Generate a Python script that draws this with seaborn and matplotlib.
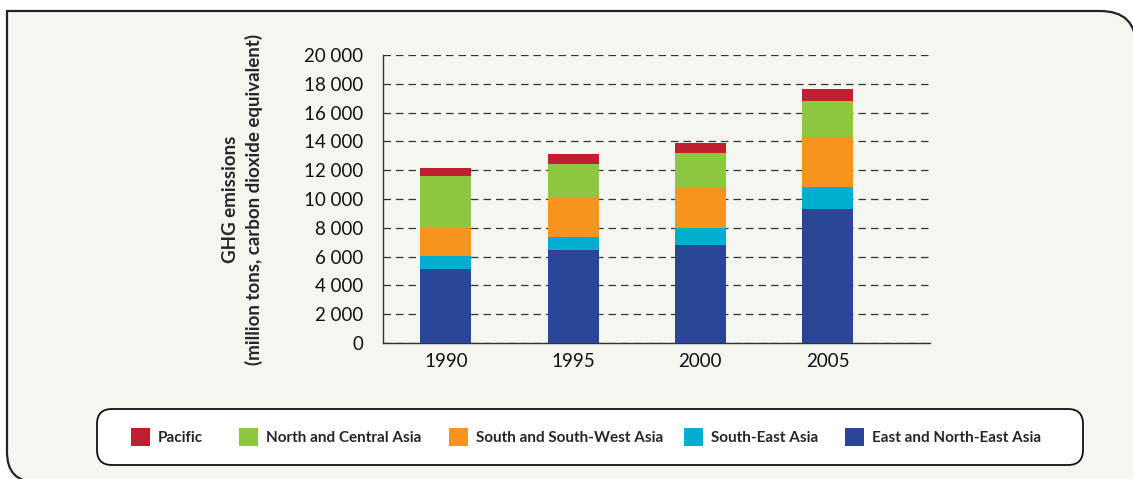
import numpy as np
import pandas as pd
import matplotlib.pyplot as plt
from matplotlib.patches import Patch, FancyBboxPatch, PathPatch
from matplotlib.path import Path
import seaborn as sns

# GHG emissions by subregion (million tons CO2 eq)
years = ["1990", "1995", "2000", "2005"]
east_ne_asia = [5160, 6470, 6820, 9320]
south_east_asia = [900, 910, 1180, 1520]
south_sw_asia = [1960, 2720, 2840, 3470]
north_central_asia = [3590, 2340, 2360, 2500]
pacific = [560, 690, 700, 830]

regions = ["East and North-East Asia", "South-East Asia", "South and South-West Asia",
           "North and Central Asia", "Pacific"]
colors = ["#2b4699", "#00aecf", "#f7941d", "#8dc63f", "#c01f2f"]
series = [east_ne_asia, south_east_asia, south_sw_asia, north_central_asia, pacific]

yticks = np.arange(0, 20001, 2000)

sns.set_style("white")
plt.rcParams["font.family"] = ["Lato", "DejaVu Sans"]

W, H = 1133, 479
fig = plt.figure(figsize=(W / 100, H / 100), dpi=100)
fig.patch.set_facecolor("white")

# background panel with the rounded frame
bg = fig.add_axes([0, 0, 1, 1], zorder=-1)
bg.set_xlim(0, W)
bg.set_ylim(H, 0)
bg.axis("off")
verts = [(36, 482), (7, 482), (7, 452), (7, 11), (1100, 11), (1136, 11), (1136, 46),
         (1136, 482), (36, 482)]
codes = [Path.MOVETO, Path.CURVE3, Path.CURVE3, Path.LINETO, Path.LINETO, Path.CURVE3,
         Path.CURVE3, Path.LINETO, Path.CLOSEPOLY]
bg.add_patch(PathPatch(Path(verts, codes), facecolor="#f3f7f0", edgecolor="#222222", lw=1.6))
bg.add_patch(FancyBboxPatch((112, 424), 956, 26, boxstyle="round,pad=15",
                            facecolor="white", edgecolor="#111111", lw=1.3))

ax = fig.add_axes([383 / W, 1 - 343 / H, (930 - 383) / W, (343 - 55) / H])
ax.set_facecolor("none")

df = pd.DataFrame({"year": years})
cum = np.zeros(len(years))
cums = []
for s in series:
    cum = cum + np.array(s)
    cums.append(cum.copy())
# draw from the tallest stack down so each segment shows
for c, col in reversed(list(zip(cums, colors))):
    df["v"] = c
    sns.barplot(data=df, x="year", y="v", color=col, width=0.4, saturation=1,
                ax=ax, zorder=3, linewidth=0)

ax.set_xlim(-0.494, 3.805)
ax.set_ylim(0, 20000)
ax.set_yticks(yticks)
ax.set_yticklabels([f"{v:,}".replace(",", " ") for v in yticks])
ax.yaxis.grid(True, linestyle=(0, (6, 4)), color="#333333", lw=0.9, zorder=0)
ax.xaxis.grid(False)
ax.tick_params(axis="both", labelsize=13.5, length=0, colors="#111111")
ax.tick_params(axis="y", pad=14)
ax.tick_params(axis="x", pad=7)
for side in ["top", "right"]:
    ax.spines[side].set_visible(False)
for side in ["left", "bottom"]:
    ax.spines[side].set_color("#333333")
    ax.spines[side].set_linewidth(1.0)
ax.set_xlabel("")
ax.set_ylabel("GHG emissions\n(million tons, carbon dioxide equivalent)",
              fontsize=13.5, fontweight="bold", linespacing=1.35, labelpad=30)

# legend entries, each anchored at its own place in the box
legend_order = [4, 3, 2, 1, 0]
legend_x = [131, 239, 449, 684, 845]
for i, lx in zip(legend_order, legend_x):
    fig.legend([Patch(facecolor=colors[i], edgecolor="none")], [regions[i]],
               loc="center left", bbox_to_anchor=(lx / W, 1 - 437 / H),
               frameon=False, borderpad=0, borderaxespad=0, handlelength=1.25,
               handleheight=1.35, handletextpad=0.5,
               prop={"weight": "bold", "size": 11})

fig.savefig("out.png", dpi=100)
